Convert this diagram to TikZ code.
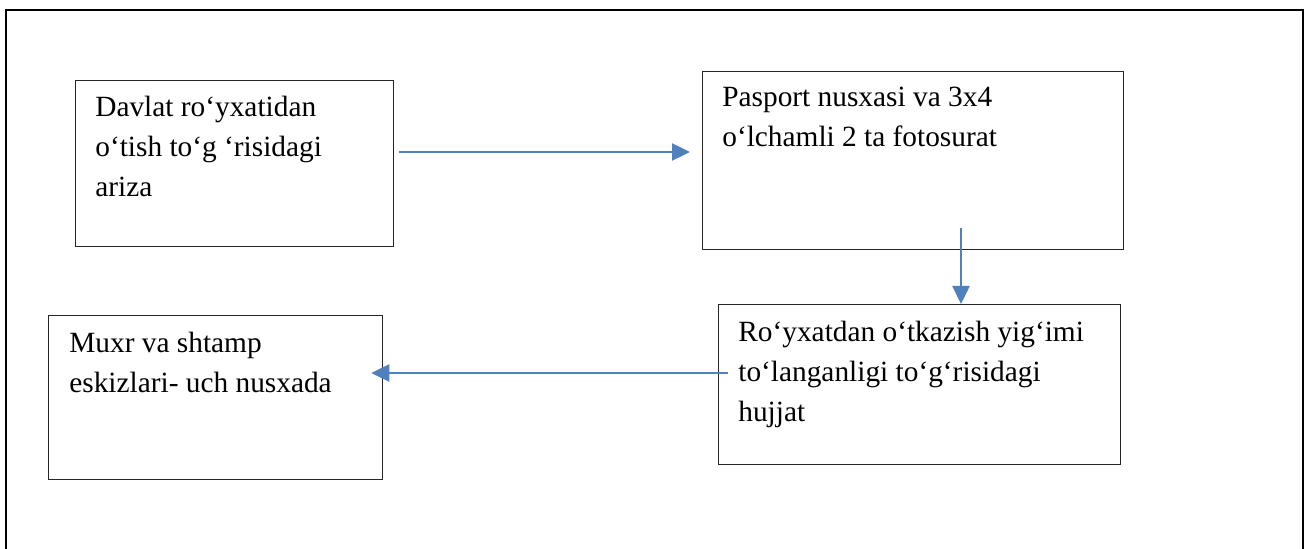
\documentclass[tikz,border=0pt]{standalone}
\usepackage{fontspec}
\setmainfont{Liberation Serif}
\usetikzlibrary{arrows.meta}
\definecolor{flowblue}{RGB}{79,129,189}
\begin{document}
\begin{tikzpicture}[
        docbox/.style={draw=black!85, line width=0.025cm, anchor=north west, inner sep=0pt},
        doctext/.style={anchor=base west, inner sep=0pt, align=left,
            font=\fontsize{16.7pt}{0.8cm}\selectfont},
        flow/.style={draw=flowblue, line width=0.05cm,
            -{Triangle[length=0.36cm, width=0.34cm]}}
    ]
                \useasboundingbox (0,0) rectangle (26.12,-10.98);
                \draw[line width=0.045cm] (0.12,-10.98) -- (0.12,-0.2) -- (26.06,-0.2) -- (26.06,-10.98);

                \node[docbox, minimum width=6.36cm, minimum height=3.32cm] (ariza) at (1.5,-1.6) {};
                \node[docbox, minimum width=8.42cm, minimum height=3.56cm] (pasport) at (14.04,-1.42) {};
                \node[docbox, minimum width=8.04cm, minimum height=3.2cm] (hujjat) at (14.36,-6.08) {};
                \node[docbox, minimum width=6.68cm, minimum height=3.28cm] (muxr) at (0.96,-6.3) {};

                % base anchor sits on the last line
                \node[doctext] (ariza text) at ([xshift=0.4cm, yshift=-2.34cm]ariza.north west)
                    {Davlat ro‘yxatidan\\o‘tish to‘g ‘risidagi\\ariza};
                \node[doctext] (pasport text) at ([xshift=0.4cm, yshift=-1.52cm]pasport.north west)
                    {Pasport nusxasi va 3x4\\o‘lchamli 2 ta fotosurat};
                \node[doctext] (hujjat text) at ([xshift=0.4cm, yshift=-2.36cm]hujjat.north west)
                    {Ro‘yxatdan o‘tkazish yig‘imi\\to‘langanligi to‘g‘risidagi\\hujjat};
                \node[doctext] (muxr text) at ([xshift=0.42cm, yshift=-1.56cm]muxr.north west)
                    {Muxr va shtamp\\eskizlari- uch nusxada};

                \coordinate (a1) at ([yshift=-1.44cm]ariza.north east);
                \coordinate (a2) at ([xshift=5.18cm]pasport.south west);
                \coordinate (a3) at ([yshift=-1.38cm]hujjat.north west);

                \draw[flow, shorten <=0.1cm, shorten >=0.24cm] (a1) to (a1 -| pasport.west);
                \draw[flow, shorten <=-0.44cm] (a2) to (a2 |- hujjat.north);
                \draw[flow, shorten <=-0.2cm, shorten >=-0.24cm] (a3) to (a3 -| muxr.east);
            \end{tikzpicture}
\end{document}
